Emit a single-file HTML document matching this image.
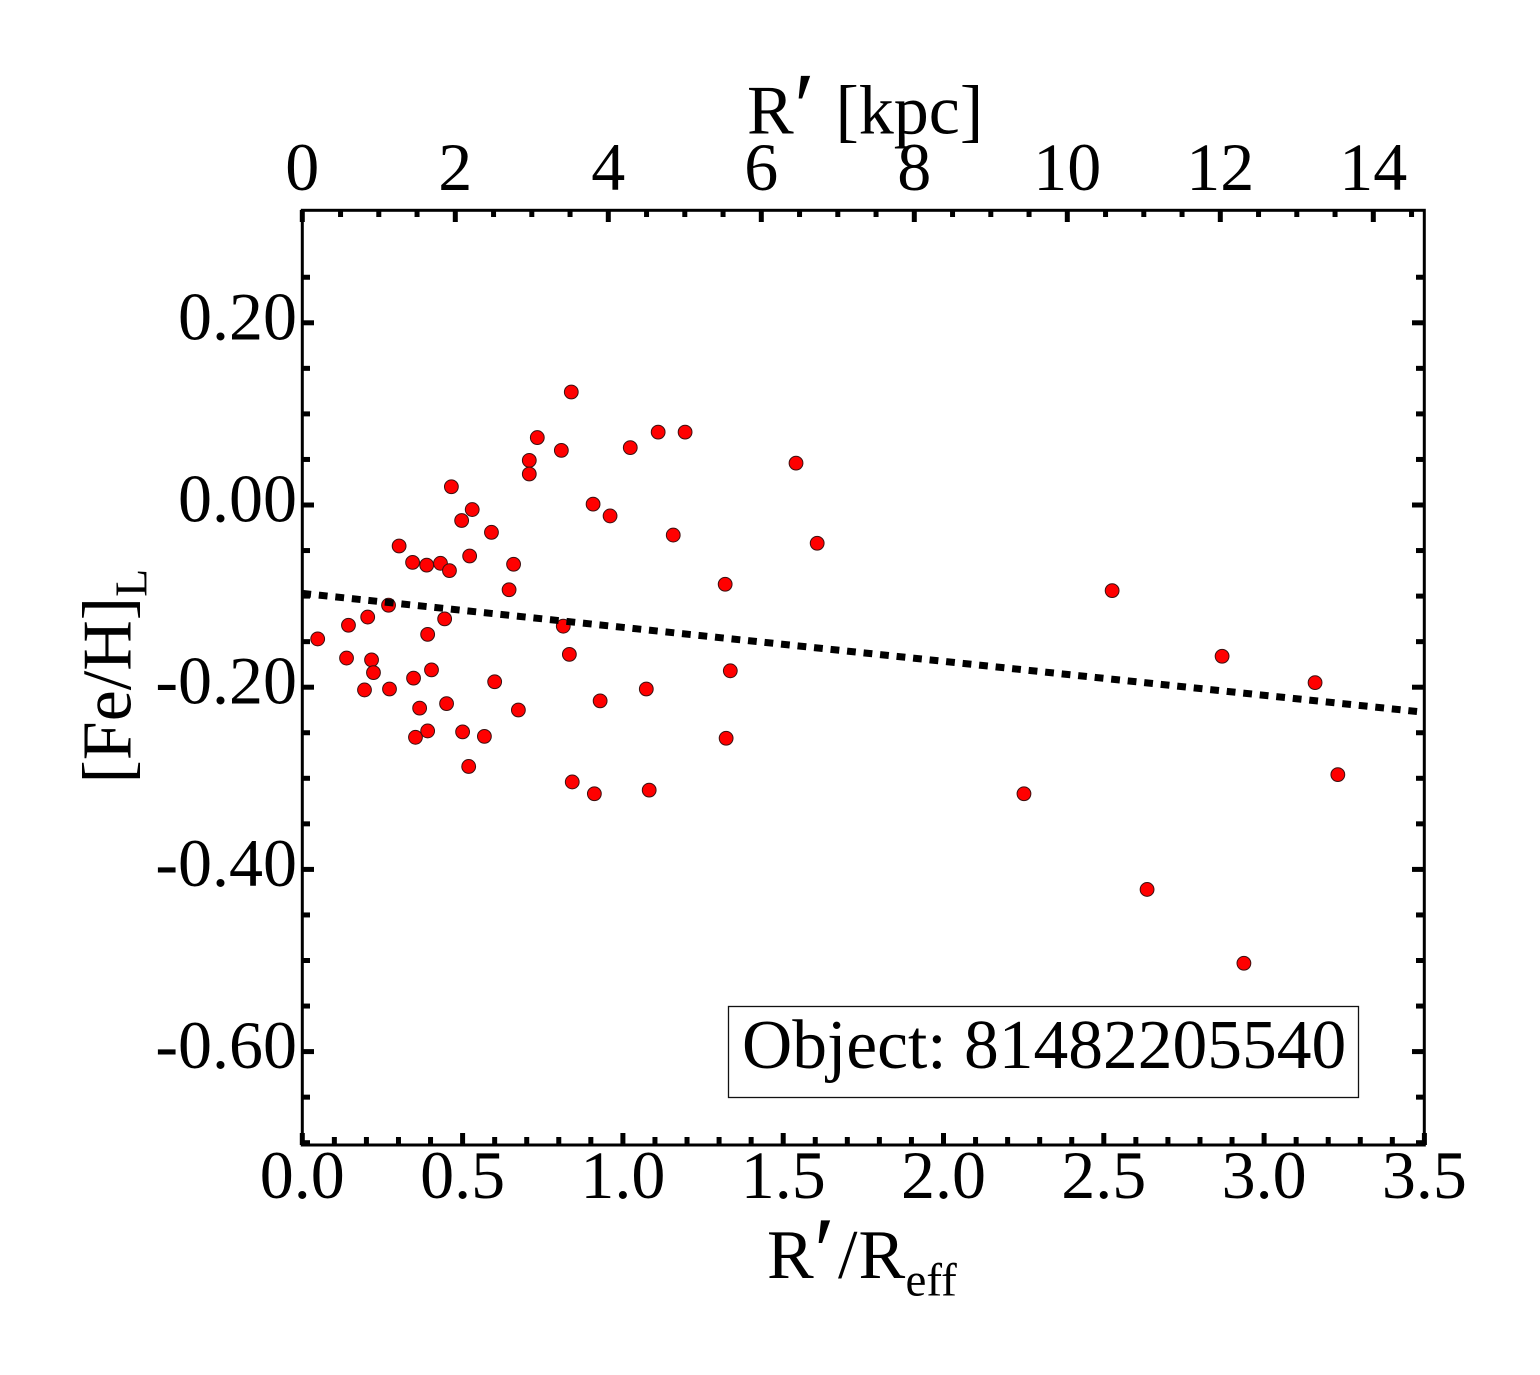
<!DOCTYPE html>
<html lang="en">
<head>
<meta charset="utf-8">
<title>[Fe/H] radial profile</title>
<style>
  html, body { margin: 0; padding: 0; background: #fff; }
  svg { display: block; }
  text { font-family: "Liberation Serif", "Times New Roman", serif; fill: #000; }
</style>
</head>
<body>
<svg id="chart" xmlns="http://www.w3.org/2000/svg" width="1540" height="1375" viewBox="0 0 1540 1375">
  <rect x="0" y="0" width="1540" height="1375" fill="#fff"/>
  <g id="ticks"></g>
  <g id="points"></g>
  <line id="fit" stroke="#000" stroke-width="7" stroke-dasharray="8.8 7.8"/>
  <rect x="302.3" y="210.3" width="1122" height="934.7" fill="none" stroke="#000" stroke-width="3"/>
  <g id="labels"></g>

  <text font-size="70"><tspan x="747" y="133.5">R</tspan><tspan x="788" y="139" font-size="96" font-style="italic">′</tspan><tspan x="835.5" y="133.5">[kpc]</tspan></text>
  <text font-size="70"><tspan x="767" y="1278">R</tspan><tspan x="808" y="1283.5" font-size="96" font-style="italic">′</tspan><tspan x="838" y="1278">/</tspan><tspan x="858.5" y="1278">R</tspan><tspan x="905.5" y="1295.5" font-size="47">eff</tspan></text>
  <text transform="translate(130.5 783.5) rotate(-90)" font-size="70">[Fe/H]<tspan font-size="46" dy="16">L</tspan></text>

  <g>
    <rect x="728.5" y="1006.5" width="630" height="91" fill="#fff" stroke="#111" stroke-width="1.3"/>
    <text x="742" y="1068" font-size="69.5">Object: 81482205540</text>
  </g>
</svg>
<script>
// Data
var pointsX = [0.048,0.138,0.144,0.204,0.216,0.222,0.194,0.272,0.269,0.302,0.344,0.388,0.431,0.459,0.444,0.391,0.403,0.347,0.366,0.450,0.353,0.391,0.500,0.568,0.519,0.600,0.674,0.465,0.497,0.530,0.522,0.590,0.659,0.645,0.708,0.708,0.733,0.808,0.839,0.814,0.833,0.929,0.842,0.911,0.907,0.960,1.023,1.110,1.194,1.157,1.073,1.082,1.319,1.335,1.322,1.540,1.606,2.251,2.526,2.635,2.869,2.937,3.159,3.230];
var pointsY = [-0.147,-0.168,-0.132,-0.123,-0.170,-0.184,-0.203,-0.202,-0.110,-0.045,-0.063,-0.066,-0.064,-0.072,-0.125,-0.142,-0.181,-0.190,-0.223,-0.218,-0.255,-0.248,-0.249,-0.254,-0.287,-0.194,-0.225,0.020,-0.017,-0.005,-0.056,-0.030,-0.065,-0.093,0.049,0.034,0.074,0.060,0.124,-0.133,-0.164,-0.215,-0.304,-0.317,0.001,-0.012,0.063,0.080,0.080,-0.033,-0.202,-0.313,-0.087,-0.182,-0.256,0.046,-0.042,-0.317,-0.094,-0.422,-0.166,-0.503,-0.195,-0.296];
var fitX = [0.0, 3.49];
var fitY = [-0.097, -0.2272];
var bottomTickLabels = ["0.0","0.5","1.0","1.5","2.0","2.5","3.0","3.5"];
var topTickLabels = ["0","2","4","6","8","10","12","14"];
var leftTickLabels = ["0.20","0.00","-0.20","-0.40","-0.60"];

// Axis functions
function xAxis(v) { return 302.3 + 320.6 * v; }
function kpcAxis(v) { return 302.3 + 76.5 * v; }
function yAxis(v) { return 505 - 911 * v; }

var NS = 'http://www.w3.org/2000/svg';
var ticksGroup = document.getElementById('ticks');
var labelsGroup = document.getElementById('labels');
var pointsGroup = document.getElementById('points');

function tickLine(x1, y1, x2, y2) {
  var el = document.createElementNS(NS, 'line');
  el.setAttribute('x1', x1);
  el.setAttribute('y1', y1);
  el.setAttribute('x2', x2);
  el.setAttribute('y2', y2);
  el.setAttribute('stroke', '#000');
  el.setAttribute('stroke-width', 5);
  ticksGroup.appendChild(el);
  return el;
}

function tickText(str, x, y, anchor) {
  var el = document.createElementNS(NS, 'text');
  el.textContent = str;
  el.setAttribute('x', x);
  el.setAttribute('y', y);
  el.setAttribute('font-size', 68);
  el.setAttribute('text-anchor', anchor);
  labelsGroup.appendChild(el);
  return el;
}

// Bottom axis: major every 0.5, minor every 0.1
for (var i = 0; i <= 35; i++) {
  var bx = xAxis(i / 10);
  var bMajor = i % 5 === 0;
  var bt = tickLine(bx, 1145, bx, 1145 - (bMajor ? 12 : 8));
  
  
}
bottomTickLabels.forEach(function (s) {
  var el = tickText(s, xAxis(parseFloat(s)), 1198, 'middle');
  
  
});

// Top axis: major every 2 kpc, minor every 0.5 kpc
for (var j = 0; j <= 29; j++) {
  var tx = kpcAxis(j / 2);
  var tMajor = j % 4 === 0;
  var tt = tickLine(tx, 210, tx, 210 + (tMajor ? 12 : 7));
  
  
}
topTickLabels.forEach(function (s) {
  var el = tickText(s, kpcAxis(parseFloat(s)), 190, 'middle');
  
  
});

// Left and right axes: major every 0.20, minor every 0.05 (up to 0.25)
for (var k = -14; k <= 5; k++) {
  var ty = yAxis(k * 0.05);
  var yMajor = k % 4 === 0;
  var len = yMajor ? 12 : 8;
  var lt = tickLine(302, ty, 302 + len, ty);
  
  
  var rt = tickLine(1424, ty, 1424 - len, ty);
  
  
}
leftTickLabels.forEach(function (s) {
  var el = tickText(s, 297, yAxis(parseFloat(s)) + 16.5, 'end');
  
  
});

// Data points
pointsX.forEach(function (v, idx) {
  var c = document.createElementNS(NS, 'circle');
  c.setAttribute('cx', xAxis(v));
  c.setAttribute('cy', yAxis(pointsY[idx]));
  c.setAttribute('r', 6.9);
  c.setAttribute('fill', '#ff0000');
  c.setAttribute('stroke', '#3a1010');
  c.setAttribute('stroke-width', 1);
  
  
  pointsGroup.appendChild(c);
});

// Fit line
var fit = document.getElementById('fit');
fit.setAttribute('x1', xAxis(fitX[0]));
fit.setAttribute('y1', yAxis(fitY[0]));
fit.setAttribute('x2', xAxis(fitX[1]));
fit.setAttribute('y2', yAxis(fitY[1]));
</script>
</body>
</html>
